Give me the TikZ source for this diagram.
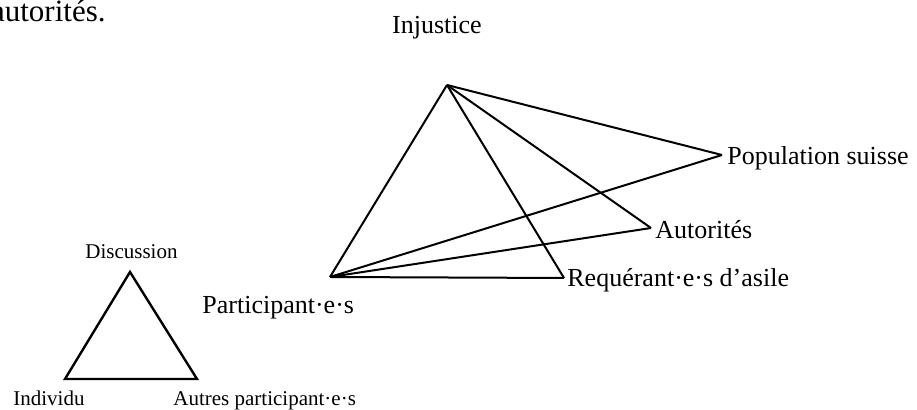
\documentclass[tikz,border=0pt]{standalone}
\usepackage{fontspec}
\setmainfont{Liberation Serif}
\begin{document}
\begin{tikzpicture}[x=0.5pt,y=-0.5pt,
  big/.style={inner sep=0pt,anchor=base west,font=\fontsize{13}{15}\selectfont},
  small/.style={inner sep=0pt,anchor=base west,font=\fontsize{10.5}{12}\selectfont},
  edge/.style={line width=1pt,line join=miter}]
\useasboundingbox (0,0) rectangle (917,410);
% vertices
\coordinate (I) at (447,85);
\coordinate (P) at (330,277);
\coordinate (Pop) at (722,155);
\coordinate (Aut) at (651,228);
\coordinate (Req) at (564,278);
\coordinate (D) at (130,272);
\coordinate (In) at (65,379);
\coordinate (Au) at (197,379);
% texts
\node[inner sep=0pt,anchor=base east,font=\fontsize{15.5}{18}\selectfont] (t0) at (106,22) {autorités.};
\node[big,anchor=base] (tI) at (437,34) {Injustice};
\node[big] (tPop) at (727,165) {Population suisse};
\node[big] (tAut) at (655,239) {Autorités};
\node[big] (tReq) at (567,287) {Requérant·e·s d’asile};
\node[big] (tP) at (202,314) {Participant·e·s};
\node[small] (tD) at (85,259) {Discussion};
\node[small] (tIn) at (13,406) {Individu};
\node[small] (tAu) at (173,406) {Autres participant·e·s};
% edges
\draw[edge] (I) -- (P);
\draw[edge] (I) -- (Req);
\draw[edge] (I) -- (Aut);
\draw[edge] (I) -- (Pop);
\draw[edge] (P) -- (Pop);
\draw[edge] (P) -- (Aut);
\draw[edge] (P) -- (Req);
\draw[edge,line width=1.2pt] (D) -- (In) -- (Au) -- cycle;
\end{tikzpicture}
\end{document}
